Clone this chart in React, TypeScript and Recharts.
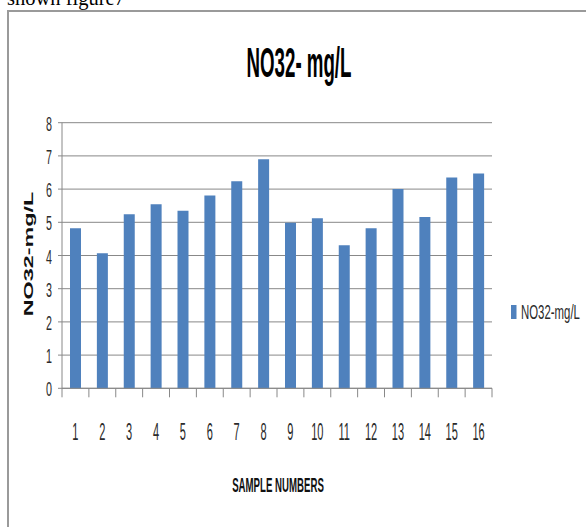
import React from "react";
import { Bar, BarChart, CartesianGrid, Legend, XAxis, YAxis } from "recharts";

// NO3 readings per sample
const samples = ["1", "2", "3", "4", "5", "6", "7", "8", "9", "10", "11", "12", "13", "14", "15", "16"];
const no3Values = [4.82, 4.07, 5.24, 5.54, 5.35, 5.81, 6.24, 6.9, 4.99, 5.12, 4.31, 4.82, 6.0, 5.16, 6.35, 6.47];
const yTicks = [0, 1, 2, 3, 4, 5, 6, 7, 8];

const seriesName = "NO32-mg/L";
const chartTitle = "NO32- mg/L";
const xTitle = "SAMPLE NUMBERS";
const yTitle = "NO32-mg/L";

const data = samples.map((s, i) => ({ sample: s, value: no3Values[i] }));

const FONT = "'Liberation Sans', Arial, sans-serif";
const GRID = "#888888";
const BAR = "#4F81BD";
const INK = "#2b2b2b";

function XTick(props: any) {
  const { x, y, payload, index } = props;
  const half = payload?.offset ?? props.width / props.visibleTicksCount / 2;
  const last = index === samples.length - 1;
  return (
    <g>
      <line x1={x - half} x2={x - half} y1={y} y2={y + 9} stroke={GRID} />
      {last && <line x1={x + half} x2={x + half} y1={y} y2={y + 9} stroke={GRID} />}
      <text
        transform={`translate(${x},${y + 52}) scale(0.48,1)`}
        textAnchor="middle"
        fontSize={23}
        fontFamily={FONT}
        fill={INK}
      >
        {payload.value}
      </text>
    </g>
  );
}

function YTick(props: any) {
  const { x, y, payload } = props;
  return (
    <text
      transform={`translate(${x},${y + 8}) scale(0.55,1)`}
      textAnchor="end"
      fontSize={19.5}
      fontFamily={FONT}
      fill={INK}
    >
      {payload.value}
    </text>
  );
}

function YLabel(props: any) {
  const vb = props.viewBox || { x: 12, y: 123, width: 50, height: 265 };
  const cx = vb.x + 17;
  const cy = vb.y + vb.height / 2 - 1.5;
  return (
    <text
      transform={`translate(${cx},${cy}) rotate(-90) scale(1.95,1)`}
      textAnchor="middle"
      dy="0.36em"
      fontSize={12}
      fontWeight="bold"
      fontFamily={FONT}
      fill="#111"
    >
      {yTitle}
    </text>
  );
}

function XLabel(props: any) {
  const vb = props.viewBox || { x: 62, y: 388, width: 430, height: 30 };
  const cx = vb.x + vb.width / 2 + 1;
  return (
    <text
      transform={`translate(${cx},492) scale(0.46,1)`}
      textAnchor="middle"
      fontSize={21}
      fontWeight="bold"
      fontFamily={FONT}
      fill="#111"
    >
      {xTitle}
    </text>
  );
}

function LegendBox() {
  return (
    <svg width={80} height={26} style={{ display: "block" }}>
      <rect x={6} y={7} width={5.5} height={14} fill={BAR} />
      <text
        transform="translate(16,20.5) scale(0.585,1)"
        fontSize={19.5}
        fontFamily={FONT}
        fill={INK}
      >
        {seriesName}
      </text>
    </svg>
  );
}

export default function App() {
  return (
    <div
      style={{
        position: "fixed",
        left: 0,
        top: 0,
        width: 586,
        height: 527,
        background: "#fff",
        overflow: "hidden",
      }}
    >
      <div
        style={{
          position: "absolute",
          left: 7,
          top: -12,
          fontFamily: "'Liberation Serif', 'Times New Roman', serif",
          fontSize: 20.5,
          lineHeight: 1,
          color: "#000",
          whiteSpace: "nowrap",
        }}
      >
        shown figure7
      </div>
      <div
        style={{
          position: "absolute",
          left: 7,
          top: 10,
          width: 600,
          height: 540,
          borderTop: "2px solid #9a9a9a",
          borderLeft: "2px solid #9a9a9a",
        }}
      />
      <div style={{ position: "absolute", left: 0, top: 0 }}>
        <BarChart
          width={586}
          height={527}
          data={data}
          margin={{ top: 122.7, right: 94, bottom: 108.7, left: 12 }}
        >
          <text
            transform="translate(299,77) scale(0.435,1)"
            textAnchor="middle"
            fontSize={43}
            fontWeight="bold"
            fontFamily={FONT}
            fill="#000"
          >
            {chartTitle}
          </text>
          <CartesianGrid vertical={false} stroke={GRID} />
          <XAxis
            dataKey="sample"
            interval={0}
            height={30}
            tickSize={0}
            tickMargin={0}
            tickLine={false}
            axisLine={{ stroke: GRID }}
            tick={<XTick />}
            label={{ content: <XLabel /> }}
          />
          <YAxis
            width={50}
            domain={[0, 8]}
            ticks={yTicks}
            interval={0}
            tickSize={4}
            tickMargin={6}
            tickLine={{ stroke: GRID }}
            axisLine={{ stroke: GRID }}
            tick={<YTick />}
            label={{ content: <YLabel /> }}
          />
          <Legend
            layout="vertical"
            align="center"
            verticalAlign="middle"
            content={<LegendBox />}
            wrapperStyle={{ left: 505, top: 298, width: 80, height: 26 }}
          />
          <Bar dataKey="value" name={seriesName} fill={BAR} barSize={11} isAnimationActive={false} />
        </BarChart>
      </div>
    </div>
  );
}
